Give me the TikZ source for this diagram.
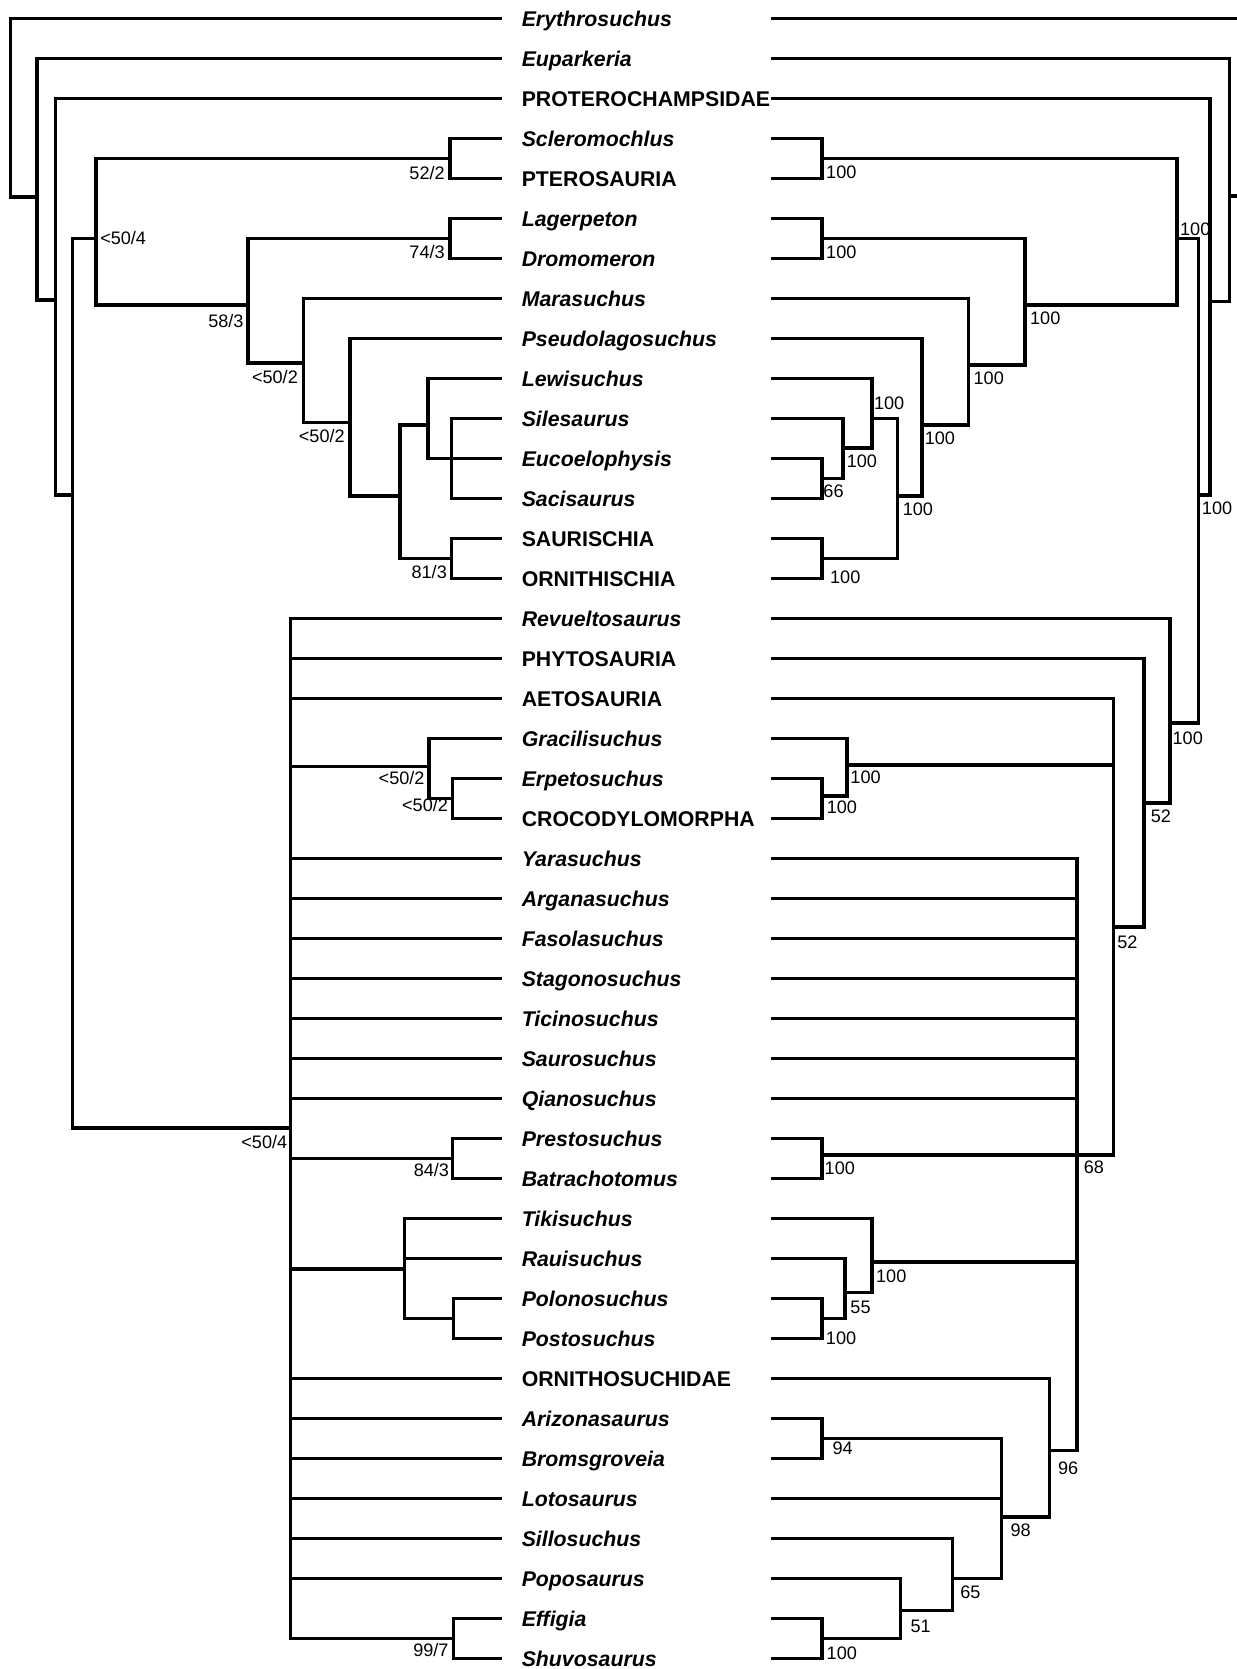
\documentclass[tikz,border=0pt]{standalone}
\usepackage{fontspec}
\setmainfont{Liberation Sans}
\begin{document}
\begin{tikzpicture}[x=1pt,y=-1pt,
  br/.style={line width=3.4pt, line cap=rect, line join=miter},
  taxon/.style={font=\fontsize{20}{24}\selectfont\bfseries, anchor=west, inner sep=0pt, text height=14.3pt, text depth=0pt},
  supp/.style={font=\fontsize{17}{20}\selectfont, inner sep=0pt, text height=12.2pt, text depth=0pt}]
\useasboundingbox (0,0) rectangle (1162,1568);
\clip (0,0) rectangle (1162,1568);
% taxa
\foreach \n [count=\i] in {\textit{Erythrosuchus}, \textit{Euparkeria}, PROTEROCHAMPSIDAE, \textit{Scleromochlus}, PTEROSAURIA, \textit{Lagerpeton}, \textit{Dromomeron}, \textit{Marasuchus}, \textit{Pseudolagosuchus}, \textit{Lewisuchus}, \textit{Silesaurus}, \textit{Eucoelophysis}, \textit{Sacisaurus}, SAURISCHIA, ORNITHISCHIA, \textit{Revueltosaurus}, PHYTOSAURIA, AETOSAURIA, \textit{Gracilisuchus}, \textit{Erpetosuchus}, CROCODYLOMORPHA, \textit{Yarasuchus}, \textit{Arganasuchus}, \textit{Fasolasuchus}, \textit{Stagonosuchus}, \textit{Ticinosuchus}, \textit{Saurosuchus}, \textit{Qianosuchus}, \textit{Prestosuchus}, \textit{Batrachotomus}, \textit{Tikisuchus}, \textit{Rauisuchus}, \textit{Polonosuchus}, \textit{Postosuchus}, ORNITHOSUCHIDAE, \textit{Arizonasaurus}, \textit{Bromsgroveia}, \textit{Lotosaurus}, \textit{Sillosuchus}, \textit{Poposaurus}, \textit{Effigia}, \textit{Shuvosaurus}} {
  \pgfmathsetmacro\yy{17.5+(\i-1)*37.58}
  \node[taxon] (t\i) at (490,\yy) {\n};
  \coordinate (L\i) at (470,\yy);
  \coordinate (R\i) at (726,\yy);
}
% left tree nodes
\coordinate (Lroot) at (10,185);
\coordinate (LEup) at (35,185);
\coordinate (LPro) at (52,282);
\coordinate (LArc) at (68,465);
\coordinate (LOrn) at (90,224);
\coordinate (LScl) at (423,149.03);
\coordinate (L58) at (233,286.5);
\coordinate (LLag) at (423,224.19);
\coordinate (LDf) at (285,341);
\coordinate (LPsl) at (329,397);
\coordinate (LSD) at (376,466);
\coordinate (LSil) at (402,399);
\coordinate (LSpol) at (424,430.88);
\coordinate (LDino) at (424,524.83);
\coordinate (LPseu) at (273,1060);
\coordinate (LGra) at (403,720);
\coordinate (LErp) at (425,750.31);
\coordinate (LPre) at (425,1088.53);
\coordinate (LRau) at (380,1192);
\coordinate (LPol) at (426,1238.85);
\coordinate (LEff) at (426,1539.49);
\foreach \p/\c in {Lroot/L1, Lroot/LEup, LEup/L2, LEup/LPro, LPro/L3, LPro/LArc,
  LArc/LOrn, LArc/LPseu, LOrn/LScl, LOrn/L58, LScl/L4, LScl/L5, L58/LLag, L58/LDf,
  LLag/L6, LLag/L7, LDf/L8, LDf/LPsl, LPsl/L9, LPsl/LSD, LSD/LSil, LSD/LDino,
  LSil/L10, LSil/LSpol, LSpol/L11, LSpol/L12, LSpol/L13, LDino/L14, LDino/L15,
  LPseu/L16, LPseu/L17, LPseu/L18, LPseu/LGra, LPseu/L22, LPseu/L23, LPseu/L24,
  LPseu/L25, LPseu/L26, LPseu/L27, LPseu/L28, LPseu/LPre, LPseu/LRau, LPseu/L35,
  LPseu/L36, LPseu/L37, LPseu/L38, LPseu/L39, LPseu/L40, LPseu/LEff,
  LGra/L19, LGra/LErp, LErp/L20, LErp/L21, LPre/L29, LPre/L30,
  LRau/L31, LRau/L32, LRau/LPol, LPol/L33, LPol/L34, LEff/L41, LEff/L42}
  \draw[br] (\p) |- (\c);
% right tree nodes
\coordinate (Rroot) at (1180,100);
\coordinate (REup) at (1155,184);
\coordinate (RPro) at (1137,283.4);
\coordinate (RArc) at (1126,465);
\coordinate (ROrn) at (1106,224);
\coordinate (RScl) at (772,149.03);
\coordinate (R963) at (963,286.5);
\coordinate (RLag) at (772,224.19);
\coordinate (R910) at (910,342.9);
\coordinate (R866) at (866,399.2);
\coordinate (R844) at (843,466);
\coordinate (R819) at (819,393.3);
\coordinate (R792) at (792,421.1);
\coordinate (REuc) at (772,449.67);
\coordinate (RDino) at (772,524.83);
\coordinate (RPseu) at (1099,679.5);
\coordinate (R1075) at (1075,754.6);
\coordinate (R1046) at (1046,871);
\coordinate (RGra) at (796,718.6);
\coordinate (RErp) at (772,748);
\coordinate (R1012) at (1012,1085);
\coordinate (RPre) at (772,1085);
\coordinate (RRau) at (819,1185.8);
\coordinate (R794) at (794,1214.4);
\coordinate (RPol) at (772,1238.85);
\coordinate (R986) at (986,1362.8);
\coordinate (R941) at (941,1425.4);
\coordinate (RAri) at (772,1351.59);
\coordinate (R895) at (895,1483.12);
\coordinate (R846) at (846,1513);
\coordinate (REff) at (772,1539.49);
\foreach \p/\c in {Rroot/R1, Rroot/REup, REup/R2, REup/RPro, RPro/R3, RPro/RArc,
  RArc/ROrn, RArc/RPseu, ROrn/RScl, ROrn/R963, RScl/R4, RScl/R5, R963/RLag, R963/R910,
  RLag/R6, RLag/R7, R910/R8, R910/R866, R866/R9, R866/R844, R844/R819, R844/RDino,
  R819/R10, R819/R792, R792/R11, R792/REuc, REuc/R12, REuc/R13, RDino/R14, RDino/R15,
  RPseu/R16, RPseu/R1075, R1075/R17, R1075/R1046, R1046/R18, R1046/RGra, R1046/R1012,
  RGra/R19, RGra/RErp, RErp/R20, RErp/R21,
  R1012/R22, R1012/R23, R1012/R24, R1012/R25, R1012/R26, R1012/R27, R1012/R28,
  R1012/RPre, R1012/RRau, R1012/R986, RPre/R29, RPre/R30, RRau/R31, RRau/R794,
  R794/R32, R794/RPol, RPol/R33, RPol/R34, R986/R35, R986/R941, R941/RAri, R941/R38,
  R941/R895, RAri/R36, RAri/R37, R895/R39, R895/R846, R846/R40, R846/REff,
  REff/R41, REff/R42}
  \draw[br] (\p) |- (\c);
% left support values
\node[supp,anchor=east] (s1) at (418,163) {52/2};
\node[supp,anchor=east] (s2) at (418,237) {74/3};
\node[supp,anchor=east] (s3) at (229,302) {58/3};
\node[supp,anchor=east] (s4) at (280,354) {<50/2};
\node[supp,anchor=east] (s5) at (324,410) {<50/2};
\node[supp,anchor=east] (s6) at (420,537) {81/3};
\node[supp,anchor=east] (s7) at (399,731) {<50/2};
\node[supp,anchor=east] (s8) at (421,756) {<50/2};
\node[supp,anchor=east] (s9) at (270,1072.5) {<50/4};
\node[supp,anchor=east] (s10) at (422,1099) {84/3};
\node[supp,anchor=east] (s11) at (421.6,1550) {99/7};
\node[supp,anchor=west] (s12) at (94,224) {<50/4};
% right support values
\node[supp,anchor=west] (r1) at (776,162) {100};
\node[supp,anchor=west] (r2) at (776,237) {100};
\node[supp,anchor=west] (r3) at (967.6,299) {100};
\node[supp,anchor=west] (r4) at (914.5,355.4) {100};
\node[supp,anchor=west] (r5) at (868.6,411.8) {100};
\node[supp,anchor=west] (r6) at (821,379) {100};
\node[supp,anchor=west] (r7) at (795.4,432.8) {100};
\node[supp,anchor=west] (r8) at (773.4,461) {66};
\node[supp,anchor=west] (r9) at (848,478.4) {100};
\node[supp,anchor=west] (r10) at (779.7,542.3) {100};
\node[supp,anchor=west] (r11) at (1108.5,215) {100};
\node[supp,anchor=west] (r12) at (1129,477) {100};
\node[supp,anchor=west] (r13) at (1101.5,693.6) {100};
\node[supp,anchor=west] (r14) at (1081,767) {52};
\node[supp,anchor=west] (r15) at (1049.5,884.6) {52};
\node[supp,anchor=west] (r16) at (798.8,729.6) {100};
\node[supp,anchor=west] (r17) at (776.6,757.8) {100};
\node[supp,anchor=west] (r18) at (1018,1096) {68};
\node[supp,anchor=west] (r19) at (774.6,1097.5) {100};
\node[supp,anchor=west] (r20) at (822.9,1198.7) {100};
\node[supp,anchor=west] (r21) at (798.8,1227.5) {55};
\node[supp,anchor=west] (r22) at (775.8,1256.6) {100};
\node[supp,anchor=west] (r23) at (993.9,1379.3) {96};
\node[supp,anchor=west] (r24) at (782,1360.6) {94};
\node[supp,anchor=west] (r25) at (949.2,1437.3) {98};
\node[supp,anchor=west] (r26) at (902,1495.2) {65};
\node[supp,anchor=west] (r27) at (855.2,1528) {51};
\node[supp,anchor=west] (r28) at (776.5,1552.5) {100};
\end{tikzpicture}
\end{document}
